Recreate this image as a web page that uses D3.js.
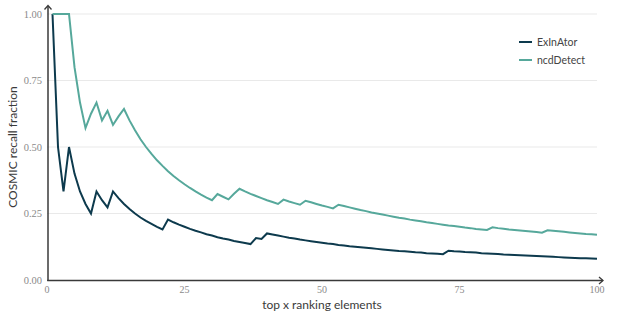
<!DOCTYPE html>
<html>
<head>
<meta charset="utf-8">
<script src="https://cdn.jsdelivr.net/npm/d3@7"></script>
<style>
html,body{margin:0;padding:0;background:#fff;}
svg{display:block;}
</style>
</head>
<body>
<svg id="chart" width="617" height="315"></svg>
<script>
// ---- data (x = 1..100) ----
const seriesNames = ["ExInAtor", "ncdDetect"];
const xTicks = [0, 25, 50, 75, 100];
const yTicks = [0, 0.25, 0.5, 0.75, 1.0];

const exinatorValues = [
 1.000,0.500,0.333,0.500,0.400,0.333,0.286,0.250,0.333,0.300,
 0.273,0.333,0.308,0.286,0.267,0.250,0.235,0.222,0.211,0.200,
 0.190,0.227,0.217,0.208,0.200,0.192,0.185,0.179,0.172,0.167,
 0.161,0.156,0.152,0.147,0.143,0.139,0.135,0.158,0.154,0.175,
 0.171,0.167,0.163,0.159,0.156,0.152,0.149,0.146,0.143,0.140,
 0.137,0.135,0.132,0.130,0.127,0.125,0.123,0.121,0.119,0.117,
 0.115,0.113,0.111,0.109,0.108,0.106,0.104,0.103,0.101,0.100,
 0.099,0.097,0.110,0.108,0.107,0.105,0.104,0.103,0.101,0.100,
 0.099,0.098,0.096,0.095,0.094,0.093,0.092,0.091,0.090,0.089,
 0.088,0.087,0.086,0.085,0.084,0.083,0.082,0.082,0.081,0.080
];
const ncddetectValues = [
 1.000,1.000,1.000,1.000,0.800,0.667,0.571,0.625,0.667,0.600,
 0.636,0.583,0.615,0.643,0.600,0.563,0.529,0.500,0.474,0.450,
 0.429,0.409,0.391,0.375,0.360,0.346,0.333,0.321,0.310,0.300,
 0.323,0.313,0.303,0.324,0.343,0.333,0.324,0.316,0.308,0.300,
 0.293,0.286,0.302,0.295,0.289,0.283,0.298,0.292,0.286,0.280,
 0.275,0.269,0.283,0.278,0.273,0.268,0.263,0.259,0.254,0.250,
 0.246,0.242,0.238,0.234,0.231,0.227,0.224,0.221,0.217,0.214,
 0.211,0.208,0.205,0.203,0.200,0.197,0.195,0.192,0.190,0.188,
 0.198,0.195,0.193,0.190,0.188,0.186,0.184,0.182,0.180,0.178,
 0.187,0.185,0.183,0.181,0.179,0.177,0.175,0.173,0.172,0.170
];

// ---- layout ----
const svg = d3.select("#chart");
const colors = {"ExInAtor": "#0d3a4d", "ncdDetect": "#56a89b"};
const x = d3.scaleLinear().domain([0, 100]).range([47, 597]);
const y = d3.scaleLinear().domain([0, 1]).range([280, 14]);

// gridlines
svg.append("g").selectAll("line").data(yTicks.filter(d => d > 0)).join("line")
  .attr("x1", x(0)).attr("x2", x(100))
  .attr("y1", d => y(d)).attr("y2", d => y(d))
  .attr("stroke", "#e9e9e9").attr("stroke-width", 1);

// y tick labels
svg.append("g").selectAll("text").data(yTicks).join("text")
  .attr("x", 42).attr("y", d => y(d)).attr("dy", "0.35em")
  .attr("text-anchor", "end")
  .attr("font-family", "'Liberation Serif', serif").attr("font-size", 10.5)
  .attr("fill", "#8a8a8a").text(d => d.toFixed(2));

// x tick labels
svg.append("g").selectAll("text").data(xTicks).join("text")
  .attr("x", d => x(d)).attr("y", 293)
  .attr("text-anchor", "middle")
  .attr("font-family", "'Liberation Serif', serif").attr("font-size", 10)
  .attr("fill", "#8a8a8a").text(d => d);

// axes with arrows
const axisColor = "#3a3a3a";
svg.append("line").attr("x1", 48).attr("x2", 48).attr("y1", 281).attr("y2", 6)
  .attr("stroke", axisColor).attr("stroke-width", 1.5);
svg.append("path").attr("d", "M44.5,9.5 L48,5.5 L51.5,9.5")
  .attr("fill", "none").attr("stroke", axisColor).attr("stroke-width", 1.3);
svg.append("line").attr("x1", 47.2).attr("x2", 603).attr("y1", 280.5).attr("y2", 280.5)
  .attr("stroke", axisColor).attr("stroke-width", 1.5);
svg.append("path").attr("d", "M599,277 L603,280.5 L599,284")
  .attr("fill", "none").attr("stroke", axisColor).attr("stroke-width", 1.3);

// lines
const series = [
  {name: seriesNames[0], values: exinatorValues},
  {name: seriesNames[1], values: ncddetectValues}
];
const line = d3.line().x((d, i) => x(i + 1)).y(d => y(d));
svg.append("g").selectAll("path").data(series).join("path")
  .attr("d", d => line(d.values))
  .attr("fill", "none")
  .attr("stroke", d => colors[d.name])
  .attr("stroke-width", 2)
  .attr("stroke-linejoin", "miter");

// axis titles
svg.append("text").attr("x", 322).attr("y", 308.5).attr("text-anchor", "middle")
  .attr("font-family", "Lato, sans-serif").attr("font-size", 12)
  .attr("fill", "#3a3a3a").text("top x ranking elements");
svg.append("text").attr("transform", "translate(17,147) rotate(-90)")
  .attr("text-anchor", "middle")
  .attr("font-family", "Lato, sans-serif").attr("font-size", 12)
  .attr("fill", "#3a3a3a").text("COSMIC recall fraction");

// legend
const lg = svg.append("g").selectAll("g").data(seriesNames).join("g")
  .attr("transform", (d, i) => `translate(519,${42 + i * 18})`);
lg.append("line").attr("x1", 0).attr("x2", 13).attr("y1", 0).attr("y2", 0)
  .attr("stroke", d => colors[d]).attr("stroke-width", 2);
lg.append("text").attr("x", 18).attr("y", 0).attr("dy", "0.35em")
  .attr("font-family", "Lato, sans-serif").attr("font-size", 10.5)
  .attr("fill", "#444").text(d => d);
</script>
</body>
</html>
